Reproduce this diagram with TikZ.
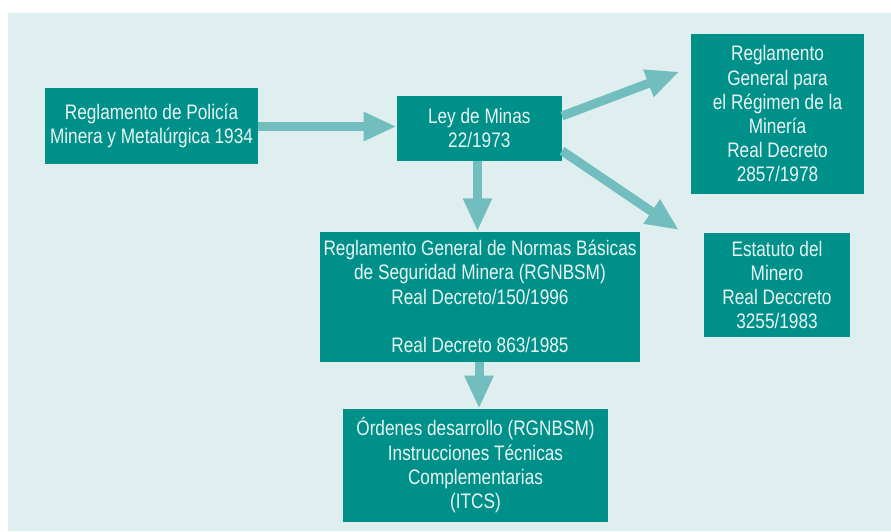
\documentclass[tikz,border=0pt]{standalone}
\usepackage{fontspec}
\setmainfont{Liberation Sans}[FakeStretch=0.82]
\usetikzlibrary{arrows.meta,calc}
\definecolor{bgc}{HTML}{DFEEEE}
\definecolor{boxc}{HTML}{00908A}
\definecolor{arrc}{HTML}{72BDBD}
\definecolor{txtc}{HTML}{E8F5F3}
\tikzset{
  box/.style={fill=boxc, draw=none, text=txtc, align=center, inner sep=0pt,
    font=\fontsize{21}{24.2}\selectfont},
  bigarrow/.style={draw=arrc, line width=9pt,
    -{Triangle[length=33pt,width=27pt,fill=arrc]}, shorten <=0pt}
}
\begin{document}
\begin{tikzpicture}[x=1pt,y=-1pt]
\useasboundingbox (0,0) rectangle (891,531);
\fill[bgc] (8,13) rectangle (891,531);
\node[box, minimum width=213pt, minimum height=76pt] (pol) at (151.5,126)
  {Reglamento de Polic\'ia\\Minera y Metal\'urgica 1934};
\node[box, minimum width=165pt, minimum height=65pt] (ley) at (479.3,128.3)
  {Ley de Minas\\22/1973};
\node[box, minimum width=173pt, minimum height=160pt] (reg) at (777.5,113.8)
  {Reglamento\\General para\\el R\'egimen de la\\Miner\'ia\\Real Decreto\\2857/1978};
\node[box, minimum width=146pt, minimum height=104pt] (est) at (777,285)
  {Estatuto del\\Minero\\Real Deccreto\\3255/1983};
\node[box, minimum width=320pt, minimum height=130pt] (rgn) at (480,296.5)
  {Reglamento General de Normas B\'asicas\\de Seguridad Minera (RGNBSM)\\Real Decreto/150/1996\\[24.2pt]Real Decreto 863/1985};
\node[box, minimum width=265pt, minimum height=113pt] (ord) at (475.5,465.3)
  {\'Ordenes desarrollo (RGNBSM)\\Instrucciones T\'ecnicas\\Complementarias\\(ITCS)};
\coordinate (t1) at (679.3,71.7);
\coordinate (t2) at (679,230);
\draw[bigarrow] (pol.east |- 0,126.5) -- (ley.west |- 0,126.5);
\draw[bigarrow] (477.5,0 |- ley.south) -- (477.5,0 |- rgn.north);
\draw[bigarrow] (479,0 |- rgn.south) -- (479,0 |- ord.north);
\draw[bigarrow] ($(ley.east)+(0,-12.3)$) -- (t1);
\draw[bigarrow] ($(ley.east)+(0,22.5)$) -- (t2);
\end{tikzpicture}
\end{document}
